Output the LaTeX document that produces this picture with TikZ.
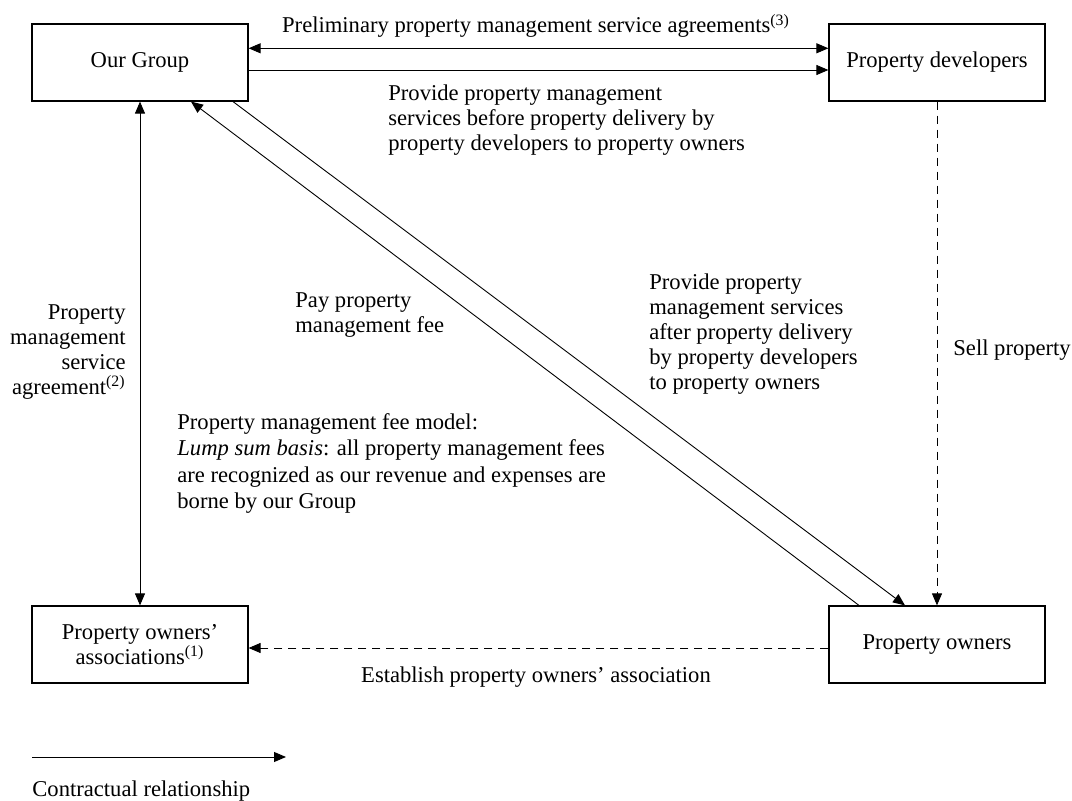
\documentclass[tikz,border=0pt]{standalone}
\usepackage{fontspec}
\setmainfont{Liberation Serif}
\usetikzlibrary{arrows.meta}

\tikzset{
  box/.style={draw, line width=0.6pt, minimum width=108pt, minimum height=38.5pt, inner sep=0pt, align=center},
  lbl/.style={inner sep=0pt},
  con/.style={line width=0.45pt, -{Triangle[length=6pt,width=5pt]}},
  dcon/.style={line width=0.45pt, {Triangle[length=6pt,width=5pt]}-{Triangle[length=6pt,width=5pt]}},
  dsh/.style={con, dash pattern=on 4pt off 3pt},
}

\begin{document}
\begin{tikzpicture}[x=0.5pt, y=-0.5pt, font=\fontsize{11.3}{12.5}\selectfont]
  \useasboundingbox (0,0) rectangle (1072,801);
  \coordinate (1) at (140,62.5);
  \coordinate (2) at (937,62.5);
  \coordinate (3) at (140,644.5);
  \coordinate (4) at (937,644.5);
  \coordinate (5) at (32,757);
  \coordinate (6) at (286,757);
  \draw (1) node[box] (grp) {Our Group};
  \draw (2) node[box] (dev) {Property developers};
  \draw (3) node[box] (poa) {Property owners’\\associations\textsuperscript{(1)}};
  \draw (4) node[box] (own) {Property owners};
  \draw[dcon] ([yshift=7.1pt]grp.east) -- ([yshift=7.1pt]dev.west);
  \draw[con] ([yshift=-3.75pt]grp.east) -- ([yshift=-3.75pt]dev.west);
  \draw[dcon] (grp) -- (poa);
  \draw[dsh] (dev) -- (own);
  \draw[dsh] ([yshift=-1.75pt]own.west) -- ([yshift=-1.75pt]poa.east);
  \draw[con] ([xshift=-39pt]own.north) -- ([xshift=25.5pt]grp.south);
  \draw[con] ([xshift=46.5pt]grp.south) -- ([xshift=-16pt]own.north);
  \draw[con] (5) -- (6);
  \draw (536,33) node[lbl, anchor=base] (pre) {Preliminary property management service agreements\textsuperscript{(3)}};
  \draw (388,84) node[lbl, anchor=north west, align=left] (bef) {Provide property management\\services before property delivery by\\property developers to property owners};
  \draw (126,304) node[lbl, anchor=north east, align=right] (psa) {Property\\management\\service\\agreement\textsuperscript{(2)}};
  \draw (295,292) node[lbl, anchor=north west, align=left] (pay) {Pay property\\management fee};
  \draw (649,273) node[lbl, anchor=north west, align=left] (aft) {Provide property\\management services\\after property delivery\\by property developers\\to property owners};
  \draw (953,350) node[lbl, anchor=west] (sel) {Sell property};
  \draw (177,413) node[lbl, anchor=north west, align=left, font=\fontsize{11.3}{13.25}\selectfont] (fee) {Property management fee model:\\\textit{Lump sum basis}: all property management fees\\are recognized as our revenue and expenses are\\borne by our Group};
  \draw (536,683) node[lbl, anchor=base] (est) {Establish property owners’ association};
  \draw (32,797) node[lbl, anchor=base west] (leg) {Contractual relationship};
\end{tikzpicture}
\end{document}
